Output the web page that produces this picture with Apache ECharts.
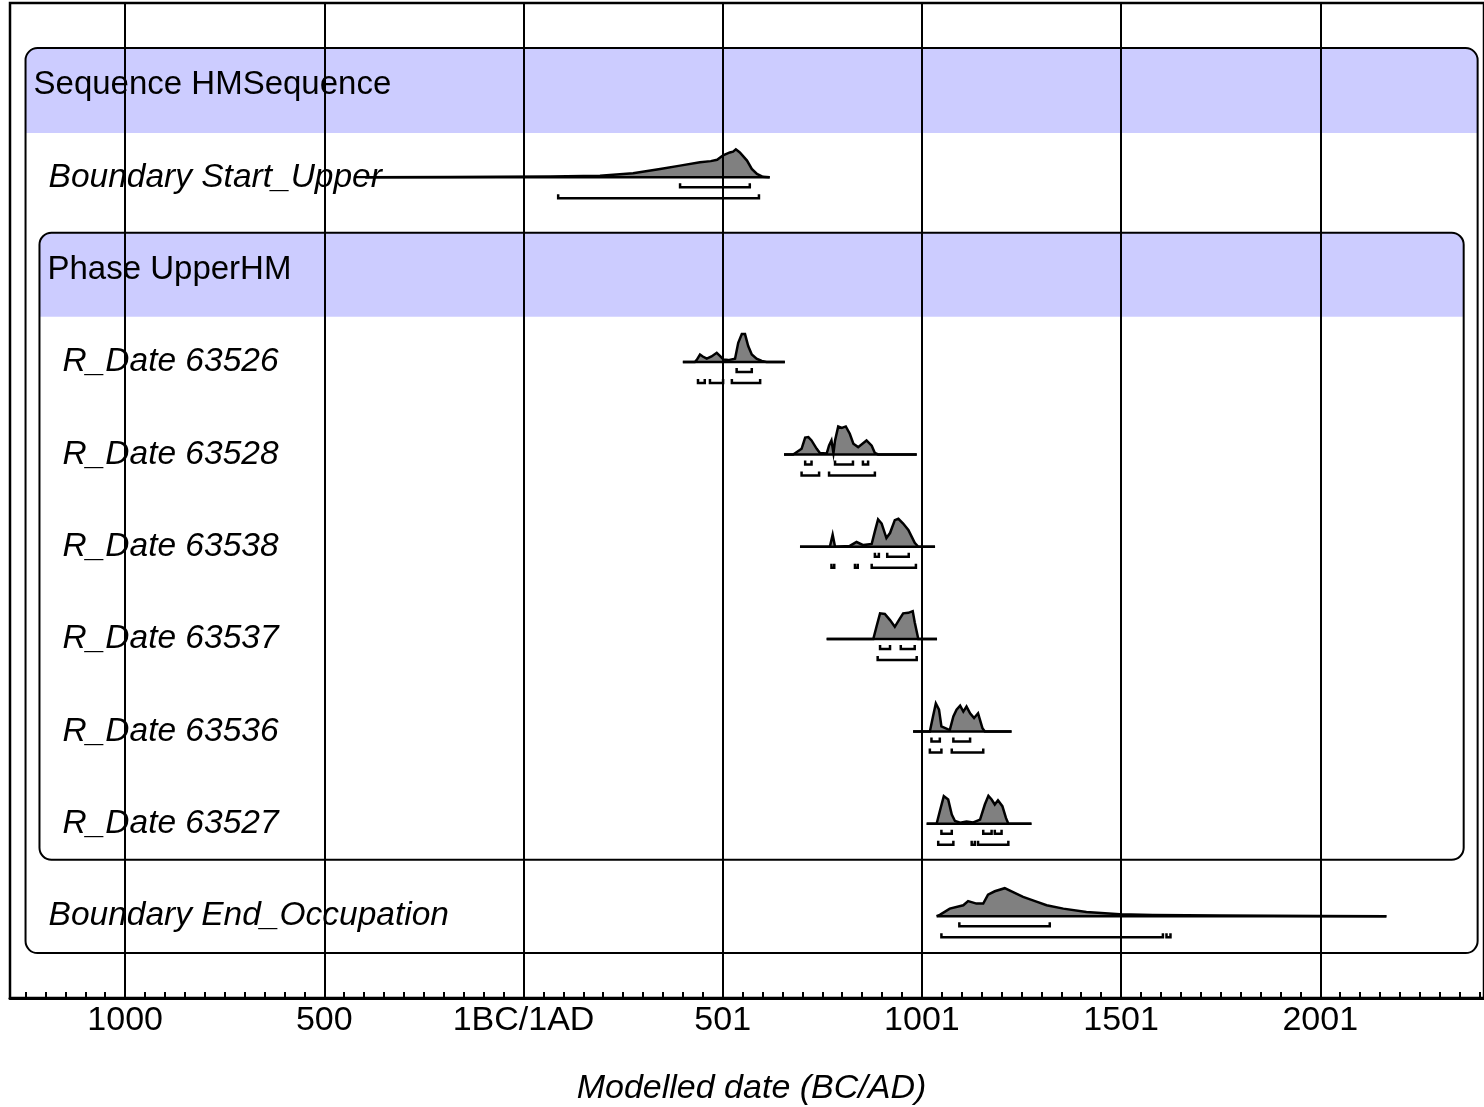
<!DOCTYPE html>
<html>
<head>
<meta charset="utf-8">
<title>HMSequence</title>
<script src="https://cdn.jsdelivr.net/npm/echarts@6/dist/echarts.min.js"></script>
<style>
html, body { margin: 0; padding: 0; background: #fff; }
#chart { width: 1484px; height: 1107px; }
</style>
</head>
<body>
<div id="chart"></div>
<script>
// axis labels (years, 0 = 1BC/1AD boundary)
const tickYears = [-1000, -500, 0, 500, 1000, 1500, 2000]
const tickLabels = ['1000', '500', '1BC/1AD', '501', '1001', '1501', '2001']

// posterior densities [year, relative probability], first/last points give the baseline extent
const probStartUpper = [[-397, 0], [-184, 0.01], [-59, 0.02], [67, 0.03], [192, 0.06], [275, 0.15], [343, 0.3], [393, 0.42], [443, 0.54], [470, 0.58], [486, 0.63], [501, 0.79], [518, 0.89], [526, 0.92], [533, 1], [543, 0.89], [561, 0.6], [573, 0.3], [586, 0.12], [601, 0.02], [618, 0]]
const prob63526 = [[400, 0], [430, 0], [435, 0.08], [443, 0.27], [450, 0.2], [460, 0.12], [472, 0.2], [485, 0.33], [493, 0.22], [502, 0.09], [514, 0.07], [531, 0.12], [539, 0.69], [548, 1], [556, 1], [564, 0.57], [573, 0.27], [585, 0.12], [598, 0.04], [610, 0], [656, 0]]
const prob63528 = [[654, 0], [677, 0], [698, 0.2], [707, 0.6], [715, 0.62], [723, 0.5], [736, 0.2], [744, 0.05], [761, 0.03], [767, 0.32], [773, 0.5], [778, 0.05], [782, 0.5], [790, 1], [799, 0.95], [809, 1], [819, 0.74], [828, 0.38], [840, 0.26], [861, 0.5], [874, 0.31], [882, 0.05], [890, 0], [987, 0]]
const prob63538 = [[694, 0], [769, 0], [776, 0.43], [782, 0], [819, 0.03], [836, 0.17], [853, 0.06], [874, 0.1], [882, 0.55], [890, 0.98], [899, 0.83], [911, 0.31], [920, 0.49], [932, 0.95], [941, 1], [953, 0.83], [966, 0.6], [974, 0.37], [982, 0.14], [991, 0], [1033, 0]]
const prob63537 = [[761, 0], [878, 0], [886, 0.44], [895, 0.92], [907, 0.9], [920, 0.68], [932, 0.44], [945, 0.74], [953, 0.92], [966, 0.94], [977, 1], [982, 0.6], [991, 0], [1038, 0]]
const prob63536 = [[978, 0], [1020, 0], [1028, 0.54], [1035, 1], [1043, 0.78], [1049, 0.18], [1070, 0.05], [1079, 0.54], [1087, 0.78], [1096, 0.92], [1104, 0.71], [1112, 0.89], [1121, 0.65], [1131, 0.48], [1141, 0.65], [1152, 0.12], [1158, 0], [1225, 0]]
const prob63527 = [[1012, 0], [1037, 0], [1045, 0.45], [1055, 0.99], [1066, 0.87], [1075, 0.33], [1083, 0.1], [1096, 0.04], [1112, 0.08], [1129, 0.05], [1146, 0.15], [1158, 0.69], [1167, 1], [1175, 0.87], [1183, 0.69], [1191, 0.84], [1202, 0.63], [1211, 0.21], [1217, 0], [1275, 0]]
const probEndOccupation = [[1037, 0], [1045, 0.05], [1070, 0.27], [1104, 0.39], [1116, 0.54], [1137, 0.45], [1154, 0.45], [1166, 0.77], [1183, 0.89], [1208, 1], [1229, 0.86], [1254, 0.69], [1284, 0.54], [1313, 0.39], [1355, 0.27], [1413, 0.15], [1497, 0.07], [1580, 0.04], [1748, 0.02], [1998, 0.01], [2166, 0]]

// highest posterior density ranges
const r68StartUpper = [[393, 568]]
const r95StartUpper = [[87, 591]]
const r68_63526 = [[535, 573]]
const r95_63526 = [[438, 455], [468, 501], [523, 594]]
const r68_63528 = [[707, 723], [782, 827], [852, 865]]
const r95_63528 = [[698, 742], [767, 882]]
const r68_63538 = [[882, 892], [913, 967]]
const r95_63538 = [[773, 780], [832, 839], [874, 985]]
const r68_63537 = [[895, 920], [947, 982]]
const r95_63537 = [[889, 987]]
const r68_63536 = [[1024, 1045], [1079, 1121]]
const r95_63536 = [[1020, 1049], [1075, 1154]]
const r68_63527 = [[1049, 1075], [1154, 1175], [1183, 1200]]
const r95_63527 = [[1041, 1079], [1125, 1133], [1141, 1217]]
const r68EndOccupation = [[1094, 1321]]
const r95EndOccupation = [[1049, 1605], [1614, 1624]]

// model structure: boxes and the rows inside them
const boxes = [
  { name: 'Sequence HMSequence', x0: -1250, x1: 2395, top: -0.4, head: 0.52, bottom: 9.4, labelRow: 0 },
  { name: 'Phase UpperHM', x0: -1215, x1: 2360, top: 1.6, head: 2.51, bottom: 8.39, labelRow: 2 }
]
const items = [
  { name: 'Boundary Start_Upper', row: 1, box: 0, prob: probStartUpper, r68: r68StartUpper, r95: r95StartUpper },
  { name: 'R_Date 63526', row: 3, box: 1, prob: prob63526, r68: r68_63526, r95: r95_63526 },
  { name: 'R_Date 63528', row: 4, box: 1, prob: prob63528, r68: r68_63528, r95: r95_63528 },
  { name: 'R_Date 63538', row: 5, box: 1, prob: prob63538, r68: r68_63538, r95: r95_63538 },
  { name: 'R_Date 63537', row: 6, box: 1, prob: prob63537, r68: r68_63537, r95: r95_63537 },
  { name: 'R_Date 63536', row: 7, box: 1, prob: prob63536, r68: r68_63536, r95: r95_63536 },
  { name: 'R_Date 63527', row: 8, box: 1, prob: prob63527, r68: r68_63527, r95: r95_63527 },
  { name: 'Boundary End_Occupation', row: 9, box: 0, prob: probEndOccupation, r68: r68EndOccupation, r95: r95EndOccupation }
]

const FONT = '"Liberation Sans", Arial, sans-serif'
const PEAK = 0.303      // peak height in row units
const OFF68 = 0.108     // bracket offsets below the baseline
const OFF95 = 0.227

// minor ticks every 50 years
const minorTicks = []
for (let y = -1250; y <= 2400; y += 50) minorTicks.push(y)

const renderBox = (params, api) => {
  const b = boxes[params.dataIndex]
  const tl = api.coord([b.x0, b.top])
  const br = api.coord([b.x1, b.bottom])
  const hd = api.coord([b.x1, b.head])
  const ty = api.coord([b.x0, b.labelRow])[1]
  const w = br[0] - tl[0]
  return {
    type: 'group',
    children: [
      { type: 'rect', shape: { x: tl[0], y: tl[1], width: w, height: hd[1] - tl[1], r: [12, 12, 0, 0] }, style: { fill: '#ccccff' } },
      { type: 'rect', shape: { x: tl[0], y: tl[1], width: w, height: br[1] - tl[1], r: 12 }, style: { fill: null, stroke: '#000', lineWidth: 2 } },
      { type: 'text', x: tl[0] + 8, y: ty, style: { text: b.name, fontSize: 33, fontFamily: FONT, fill: '#000', align: 'left', verticalAlign: 'middle' } }
    ]
  }
}

const bracket = (api, r, yRow) => {
  const a = api.coord([r[0], yRow])
  const b = api.coord([r[1], yRow])
  return {
    type: 'polyline',
    shape: { points: [[a[0], a[1] - 4], a, b, [b[0], b[1] - 4]] },
    style: { fill: null, stroke: '#000', lineWidth: 2.5 }
  }
}

const renderDist = (params, api) => {
  const d = items[params.dataIndex]
  const pts = d.prob.map(p => api.coord([p[0], d.row - p[1] * PEAK]))
  const b0 = api.coord([d.prob[0][0], d.row])
  const b1 = api.coord([d.prob[d.prob.length - 1][0], d.row])
  const children = [
    { type: 'polygon', shape: { points: [b0].concat(pts, [b1]) }, style: { fill: '#808080' } },
    { type: 'polyline', shape: { points: pts }, style: { fill: null, stroke: '#000', lineWidth: 2.5 } },
    { type: 'line', shape: { x1: b0[0], y1: b0[1], x2: b1[0], y2: b1[1] }, style: { stroke: '#000', lineWidth: 2.5 } }
  ]
  d.r68.forEach(r => children.push(bracket(api, r, d.row + OFF68)))
  d.r95.forEach(r => children.push(bracket(api, r, d.row + OFF95)))
  return { type: 'group', children }
}

const renderLabel = (params, api) => {
  const d = items[params.dataIndex]
  const x = api.coord([boxes[d.box].x0, d.row])[0] + 23
  const y = api.coord([0, d.row])[1]
  return {
    type: 'text', x, y,
    style: { text: d.name, fontSize: 33.5, fontStyle: 'italic', fontFamily: FONT, fill: '#000', align: 'left', verticalAlign: 'middle' }
  }
}

const chart = echarts.init(document.getElementById('chart'), null, { renderer: 'canvas' })

chart.setOption({
  animation: false,
  backgroundColor: '#fff',
  grid: {
    left: 10, right: 0, top: 3, bottom: 109,
    outerBoundsMode: 'none',
    containLabel: false,
    show: true, borderColor: '#000', borderWidth: 2.5, backgroundColor: 'transparent'
  },
  xAxis: {
    type: 'value',
    min: -1289,
    max: 2411,
    name: 'Modelled date (BC/AD)',
    nameLocation: 'middle',
    nameGap: 74,
    nameTextStyle: { fontSize: 34, fontStyle: 'italic', fontFamily: FONT, color: '#000', padding: [0, 0, 0, 9] },
    axisLine: { onZero: false, lineStyle: { color: '#000', width: 3 } },
    axisTick: { inside: true, length: 6, customValues: minorTicks, lineStyle: { color: '#000', width: 2 } },
    axisLabel: {
      customValues: tickYears,
      margin: 6,
      fontSize: 34,
      fontFamily: FONT,
      color: '#000',
      formatter: v => tickLabels[tickYears.indexOf(v)]
    },
    splitLine: { show: false }
  },
  yAxis: {
    type: 'value',
    min: -0.888,
    max: 9.886,
    inverse: true,
    show: false,
    splitLine: { show: false }
  },
  series: [
    {
      type: 'custom',
      name: 'boxes',
      z: 1,
      clip: false,
      silent: true,
      renderItem: renderBox,
      data: boxes.map(b => [b.x0, b.top])
    },
    {
      type: 'custom',
      name: 'distributions',
      z: 2,
      clip: false,
      silent: true,
      renderItem: renderDist,
      data: items.map(d => [d.prob[0][0], d.row])
    },
    {
      type: 'custom',
      name: 'labels',
      z: 3,
      clip: false,
      silent: true,
      renderItem: renderLabel,
      data: items.map(d => [boxes[d.box].x0, d.row])
    },
    {
      type: 'line',
      name: 'gridlines',
      z: 10,
      data: [],
      markLine: {
        silent: true,
        symbol: 'none',
        label: { show: false },
        lineStyle: { color: '#000', width: 2, type: 'solid' },
        data: tickYears.map(v => ({ xAxis: v }))
      }
    }
  ]
})
</script>
</body>
</html>
